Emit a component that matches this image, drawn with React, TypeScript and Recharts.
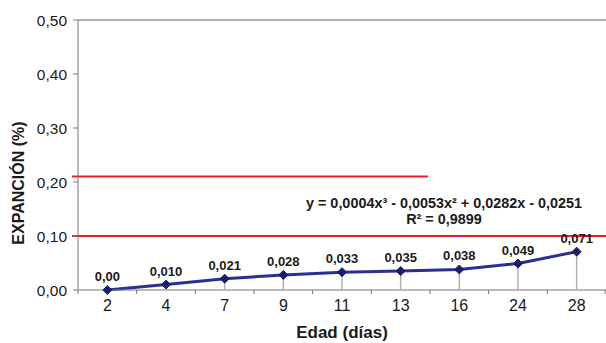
import React from "react";
import {
  ComposedChart,
  Line,
  XAxis,
  YAxis,
  ReferenceLine,
  LabelList,
  Customized,
} from "recharts";

const categories = ["2", "4", "7", "9", "11", "13", "16", "24", "28"];
const expansion = [0.0, 0.01, 0.021, 0.028, 0.033, 0.035, 0.038, 0.049, 0.071];
const pointLabels = ["0,00", "0,010", "0,021", "0,028", "0,033", "0,035", "0,038", "0,049", "0,071"];
const yTicks = [0, 0.1, 0.2, 0.3, 0.4, 0.5];
const limitHigh = 0.21;
const limitLow = 0.1;
const equation = "y = 0,0004x³ - 0,0053x² + 0,0282x - 0,0251";
const rSquared = "R² = 0,9899";

const data = categories.map((c, i) => ({
  edad: c,
  v: expansion[i],
  label: pointLabels[i],
}));

const FONT = "'Liberation Sans', Arial, sans-serif";
const CHART_W = 606;
const CHART_H = 343;
const X_AXIS_H = 53;
const Y_AXIS_W = 78;
const X_TICK_SIZE = 4;
const X_TICK_MARGIN = 6;
// bottom of the plot area (where the y axis value 0 sits)
const PLOT_BOTTOM = CHART_H - X_AXIS_H;

const Diamond = (props: any) => {
  const { cx, cy } = props;
  if (cx == null || cy == null) return null;
  const s = 4.5;
  return (
    <g>
      {PLOT_BOTTOM > cy + 1 && (
        <line x1={cx} x2={cx} y1={cy} y2={PLOT_BOTTOM} stroke="#b0b0b0" strokeWidth={1.5} />
      )}
      <polygon
        points={`${cx},${cy - s} ${cx + s},${cy} ${cx},${cy + s} ${cx - s},${cy}`}
        fill="#1a1d6b"
        stroke="#1a1d6b"
      />
    </g>
  );
};

const XTick = (props: any) => {
  const { x, y, payload, index } = props;
  const half =
    payload && typeof payload.offset === "number" && payload.offset > 0
      ? payload.offset
      : (CHART_W - Y_AXIS_W) / categories.length / 2;
  const axisY = y - X_TICK_SIZE - X_TICK_MARGIN;
  const isLast = index === categories.length - 1;
  return (
    <g>
      <line x1={x - half} x2={x - half} y1={axisY} y2={axisY + 4} stroke="#777" />
      {isLast && <line x1={x + half - 1} x2={x + half - 1} y1={axisY} y2={axisY + 4} stroke="#777" />}
      <text
        x={x}
        y={y}
        dy="0.71em"
        textAnchor="middle"
        fill="#1a1a1a"
        fontSize={16}
        fontFamily={FONT}
      >
        {payload.value}
      </text>
    </g>
  );
};

const redLine = (frac: number) => (props: any) => {
  const { x1, x2, y1 } = props;
  if (x1 == null) return null;
  return (
    <line
      x1={x1 - 6}
      x2={x1 + (x2 - x1) * frac}
      y1={y1}
      y2={y1}
      stroke="#ee1c25"
      strokeWidth={2}
    />
  );
};

const Titles = () => (
  <g fontFamily={FONT} fontWeight="bold" fill="#1a1a1a">
    <text
      x={0}
      y={0}
      transform="translate(24,183) rotate(-90)"
      textAnchor="middle"
      fontSize={16}
    >
      EXPANCIÓN (%)
    </text>
    <text x={444} y={208} textAnchor="middle" fontSize={14.4}>
      {equation}
    </text>
    <text x={444} y={224} textAnchor="middle" fontSize={14.4}>
      {rSquared}
    </text>
  </g>
);

export default function App() {
  return (
    <div style={{ position: "absolute", left: 0, top: 0, background: "#fff" }}>
      <ComposedChart
        width={CHART_W}
        height={CHART_H}
        data={data}
        margin={{ top: 20, right: 0, bottom: 0, left: 0 }}
      >
        <XAxis
          dataKey="edad"
          scale="band"
          axisLine={{ stroke: "#777" }}
          tickLine={false}
          tickSize={X_TICK_SIZE}
          tickMargin={X_TICK_MARGIN}
          height={X_AXIS_H}
          interval={0}
          tick={<XTick />}
          label={{
            value: "Edad (días)",
            position: "insideBottom",
            offset: 5,
            fill: "#1a1a1a",
            fontSize: 17,
            fontWeight: "bold",
            fontFamily: FONT,
          }}
        />
        <YAxis
          type="number"
          domain={[0, 0.5]}
          ticks={yTicks}
          width={Y_AXIS_W}
          tickFormatter={(v: number) => v.toFixed(2).replace(".", ",")}
          axisLine={{ stroke: "#777" }}
          tickLine={{ stroke: "#777" }}
          tickSize={5}
          tickMargin={6}
          tick={{ fill: "#1a1a1a", fontSize: 15.5, fontFamily: FONT }}
        />
        <ReferenceLine y={0.5} stroke="#999" strokeWidth={1.5} />
        <ReferenceLine y={limitHigh} shape={redLine(0.663)} />
        <ReferenceLine y={limitLow} shape={redLine(1)} />
        <Line
          dataKey="v"
          stroke="#2b2f91"
          strokeWidth={3}
          dot={<Diamond />}
          activeDot={false}
          isAnimationActive={false}
        >
          <LabelList
            dataKey="label"
            position="top"
            offset={9}
            fill="#1a1a1a"
            fontSize={13}
            fontWeight="bold"
            fontFamily={FONT}
          />
        </Line>
        <Customized component={Titles} />
      </ComposedChart>
    </div>
  );
}
